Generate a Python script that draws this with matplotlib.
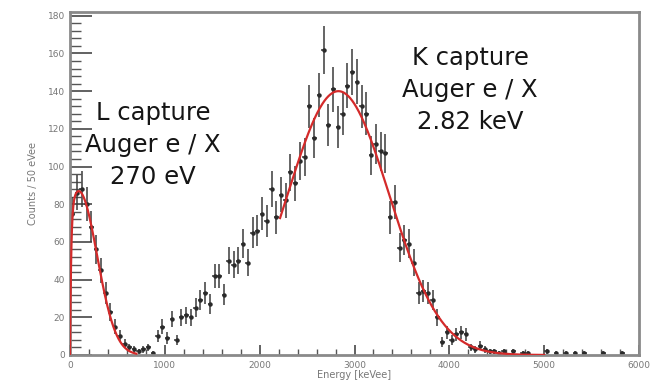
import numpy as np
import matplotlib
matplotlib.use("Agg")
import matplotlib.pyplot as plt
from matplotlib.ticker import MultipleLocator

# ---- data: histogram, 50 eV bins, centres 25 .. 5975 ----
bin_width = 50
bin_centers = np.arange(25, 6000, 50)
counts = [
    75, 86, 88, 80, 68, 56, 45, 33, 23, 15,      # 25 - 475
    10, 6, 4, 3, 2, 3, 4, 1, 10, 15,             # 525 - 975
    9, 19, 8, 20, 21, 20, 25, 29, 33, 27,        # 1025 - 1475
    42, 42, 32, 50, 48, 50, 59, 49, 65, 66,      # 1525 - 1975
    75, 71, 88, 73, 85, 82, 97, 91, 103, 105,    # 2025 - 2475
    132, 115, 138, 162, 122, 141, 121, 128, 143, 150,  # 2525 - 2975
    145, 132, 128, 106, 112, 108, 107, 73, 81, 57,     # 3025 - 3475
    61, 59, 49, 33, 34, 33, 29, 20, 7, 12,       # 3525 - 3975
    8, 11, 12, 11, 4, 3, 5, 3, 2, 2,             # 4025 - 4475
    1, 2, 0, 2, 0, 1, 1, 0, 0, 0,                # 4525 - 4975
    2, 0, 1, 0, 1, 0, 1, 0, 1, 0,                # 5025 - 5475
    0, 0, 1, 0, 0, 0, 1, 0, 0, 0,                # 5525 - 5975
]

# fit results (Gaussian peaks)
L_fit = dict(amp=87.0, mu=90.0, sigma=196.0, lo=0.0, hi=700.0)
K_fit = dict(amp=140.0, mu=2830.0, sigma=537.0, lo=2215.0, hi=5000.0)

x_ticks = [0, 1000, 2000, 3000, 4000, 5000, 6000]
y_ticks = [0, 20, 40, 60, 80, 100, 120, 140, 160, 180]

L_label = "L capture\nAuger e / X\n270 eV"
K_label = "K capture\nAuger e / X\n2.82 keV"

# ---- figure ----
fig = plt.figure(figsize=(6.6, 3.87), dpi=100)
ax = fig.add_axes([70 / 660, 1 - 355 / 387, (639 - 70) / 660, (355 - 12) / 387])

c = np.array(counts, dtype=float)
m = c > 0
ax.errorbar(bin_centers[m], c[m], yerr=np.sqrt(c[m]), xerr=bin_width / 2,
            fmt="o", ms=2.2, color="#2a2a2a", ecolor="#3a3a3a",
            elinewidth=1.1, capsize=0, zorder=2)


def gauss_curve(p, rise=False):
    e = np.linspace(p["lo"], p["hi"], 400)
    y = p["amp"] * np.exp(-(e - p["mu"]) ** 2 / (2 * p["sigma"] ** 2))
    if rise:
        y = y * (1 - np.exp(-e / 12.0))
    return e, y


e, y = gauss_curve(L_fit, rise=True)
ax.plot(e, y, color="#d42a2a", lw=1.6, zorder=3)
e, y = gauss_curve(K_fit)
ax.plot(e, y, color="#d42a2a", lw=1.6, zorder=3)

ax.set_xlim(0, 6000)
ax.set_ylim(0, 182)
ax.set_xticks(x_ticks)
ax.set_yticks(y_ticks)
ax.xaxis.set_minor_locator(MultipleLocator(200))
ax.yaxis.set_minor_locator(MultipleLocator(4))
ax.tick_params(axis="both", which="both", direction="in", colors="#555555",
               labelsize=6.5, labelcolor="#777777")
ax.tick_params(axis="y", which="major", length=16, width=1.3)
ax.tick_params(axis="y", which="minor", length=8, width=1.0)
ax.tick_params(axis="x", which="major", length=7, width=1.3)
ax.tick_params(axis="x", which="minor", length=4, width=1.0)
ax.tick_params(axis="x", pad=4)
for s in ax.spines.values():
    s.set_color("#8a8a8a")
    s.set_linewidth(2.0)

ax.set_xlabel("Energy [keVee]", fontsize=7, color="#777777", labelpad=0)
ax.set_ylabel("Counts / 50 eVee", fontsize=7, color="#777777", labelpad=7)

txt_kw = dict(ha="center", va="center", fontsize=17.5, color="#151515",
              family="DejaVu Sans", linespacing=1.4)
fig.text(153 / 660, 1 - 145 / 387, L_label, **txt_kw)
fig.text(470 / 660, 1 - 90 / 387, K_label, **txt_kw)

fig.savefig("out.png", dpi=100)
